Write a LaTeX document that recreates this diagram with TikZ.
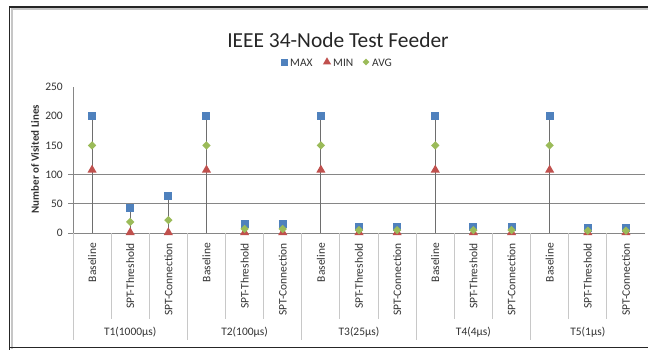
\documentclass[tikz,border=0pt]{standalone}
\usepackage{fontspec}
\setmainfont{Carlito}
\usetikzlibrary{shapes.geometric}
\definecolor{maxblue}{HTML}{4F81BD}
\definecolor{minred}{HTML}{C0504D}
\definecolor{avggreen}{HTML}{9BBB59}
\definecolor{gridgray}{HTML}{868686}
\definecolor{droplinegray}{HTML}{6E6E6E}
\definecolor{ticklight}{HTML}{C8C8C8}
\begin{document}
\begin{tikzpicture}[x=1bp,y=-1bp,
  sqmark/.style={rectangle,fill=maxblue,draw=none,minimum size=8bp,inner sep=0pt},
  trimark/.style={regular polygon,regular polygon sides=3,fill=minred,draw=none,minimum size=10.5bp,inner sep=0pt},
  dimark/.style={diamond,fill=avggreen,draw=none,minimum width=8.5bp,minimum height=8.5bp,inner sep=0pt},
  gridline/.style={draw=gridgray,line width=0.9bp},
  dropline/.style={draw=droplinegray,line width=0.9bp},
  sepline/.style={draw=ticklight,line width=0.9bp},
  ticklab/.style={font=\fontsize{11.5}{12}\selectfont,text=black!80,anchor=east,inner sep=0pt},
  catlab/.style={font=\fontsize{11.5}{12}\selectfont,text=black!80,rotate=90,anchor=east,inner sep=0pt},
  grouplab/.style={font=\fontsize{11.5}{12}\selectfont,text=black!80,inner sep=0pt},
  leglab/.style={font=\fontsize{11.5}{12}\selectfont,text=black!80,anchor=west,inner sep=0pt}]
\useasboundingbox (0,0) rectangle (648,349);
\clip (0,0) rectangle (648,349);
\fill[white] (0,0) rectangle (648,349);
% chart frame
\draw[gray!45,line width=2bp] (11.8,349) -- (11.8,9.2) -- (660,9.2);
\draw[black!85,line width=1.6bp] (9.5,360) -- (9.5,7) -- (660,7);
\draw[black!85,line width=1.6bp] (9.5,347.6) -- (660,347.6);
% title and legend
\node[font=\fontsize{21.5}{24}\selectfont,text=black!85] (title) at (338,40) {IEEE 34-Node Test Feeder};
\node[sqmark,minimum size=7bp] (legmax) at (284,62) {};
\node[leglab] (legmaxt) at (290,62.5) {MAX};
\node[trimark,minimum size=9.5bp] (legmin) at (327,62) {};
\node[leglab] (legmint) at (333,62.5) {MIN};
\node[dimark,minimum width=7bp,minimum height=7bp] (legavg) at (366,62) {};
\node[leglab] (legavgt) at (372,62.5) {AVG};
% y axis label
\node[font=\bfseries\fontsize{11}{12}\selectfont,text=black!80,rotate=90] (ylab) at (35,159) {Number of Visited Lines};
% gridlines and axes
\draw[gridline] (68,174.6) -- (645,174.6);
\draw[gridline] (68,203.8) -- (645,203.8);
\draw[gridline] (68,233) -- (645,233);
\draw[gridline] (73,87) -- (73,233);
\foreach \v in {0,50,...,250}{
  \pgfmathsetmacro{\yy}{233-0.584*\v}
  \node[ticklab] (tick\v) at (63,\yy) {\v};
}
% category separators below axis
\draw[sepline] (73,233) -- (73,340);
\foreach \k in {1,...,14}{
  \pgfmathsetmacro{\xx}{73+38.133*\k}
  \pgfmathtruncatemacro{\g}{mod(\k,3)}
  \ifnum\g=0
    \draw[sepline] (\xx,233) -- (\xx,340);
  \else
    \draw[sepline] (\xx,233) -- (\xx,319);
  \fi
}
% data
\foreach \k/\mx/\mn/\av/\lab in {0/200/108/150/Baseline, 1/43/1/19/SPT-Threshold, 2/63/1/22/SPT-Connection,
  3/200/108/150/Baseline, 4/15/1/7/SPT-Threshold, 5/15/1/7/SPT-Connection,
  6/200/108/150/Baseline, 7/11/1/5/SPT-Threshold, 8/11/1/5/SPT-Connection,
  9/200/108/150/Baseline, 10/11/1/5/SPT-Threshold, 11/11/1/5/SPT-Connection,
  12/200/108/150/Baseline, 13/8/1/4/SPT-Threshold, 14/8/1/4/SPT-Connection}{
  \pgfmathsetmacro{\xx}{73+38.133*(\k+0.5)}
  \pgfmathsetmacro{\ymx}{233-0.584*\mx}
  \pgfmathsetmacro{\ymn}{233-0.584*\mn}
  \pgfmathsetmacro{\yav}{233-0.584*\av}
  \coordinate (base\k) at (\xx,233);
  \node[sqmark] (max\k) at (\xx,\ymx) {};
  \draw[dropline] (max\k.center) -- (base\k);
  \node[sqmark] at (max\k) {};
  \node[trimark] (min\k) at (\xx,\ymn) {};
  \node[dimark] (avg\k) at (\xx,\yav) {};
  \node[catlab] (cat\k) at (\xx,243) {\lab};
}
% group labels
\foreach \gname [count=\i from 0] in {T1(1000µs),T2(100µs),T3(25µs),T4(4µs),T5(1µs)}{
  \pgfmathsetmacro{\xx}{73+38.133*(3*\i+1.5)}
  \node[grouplab] (grp\i) at (\xx,332) {\gname};
}
\end{tikzpicture}
\end{document}
